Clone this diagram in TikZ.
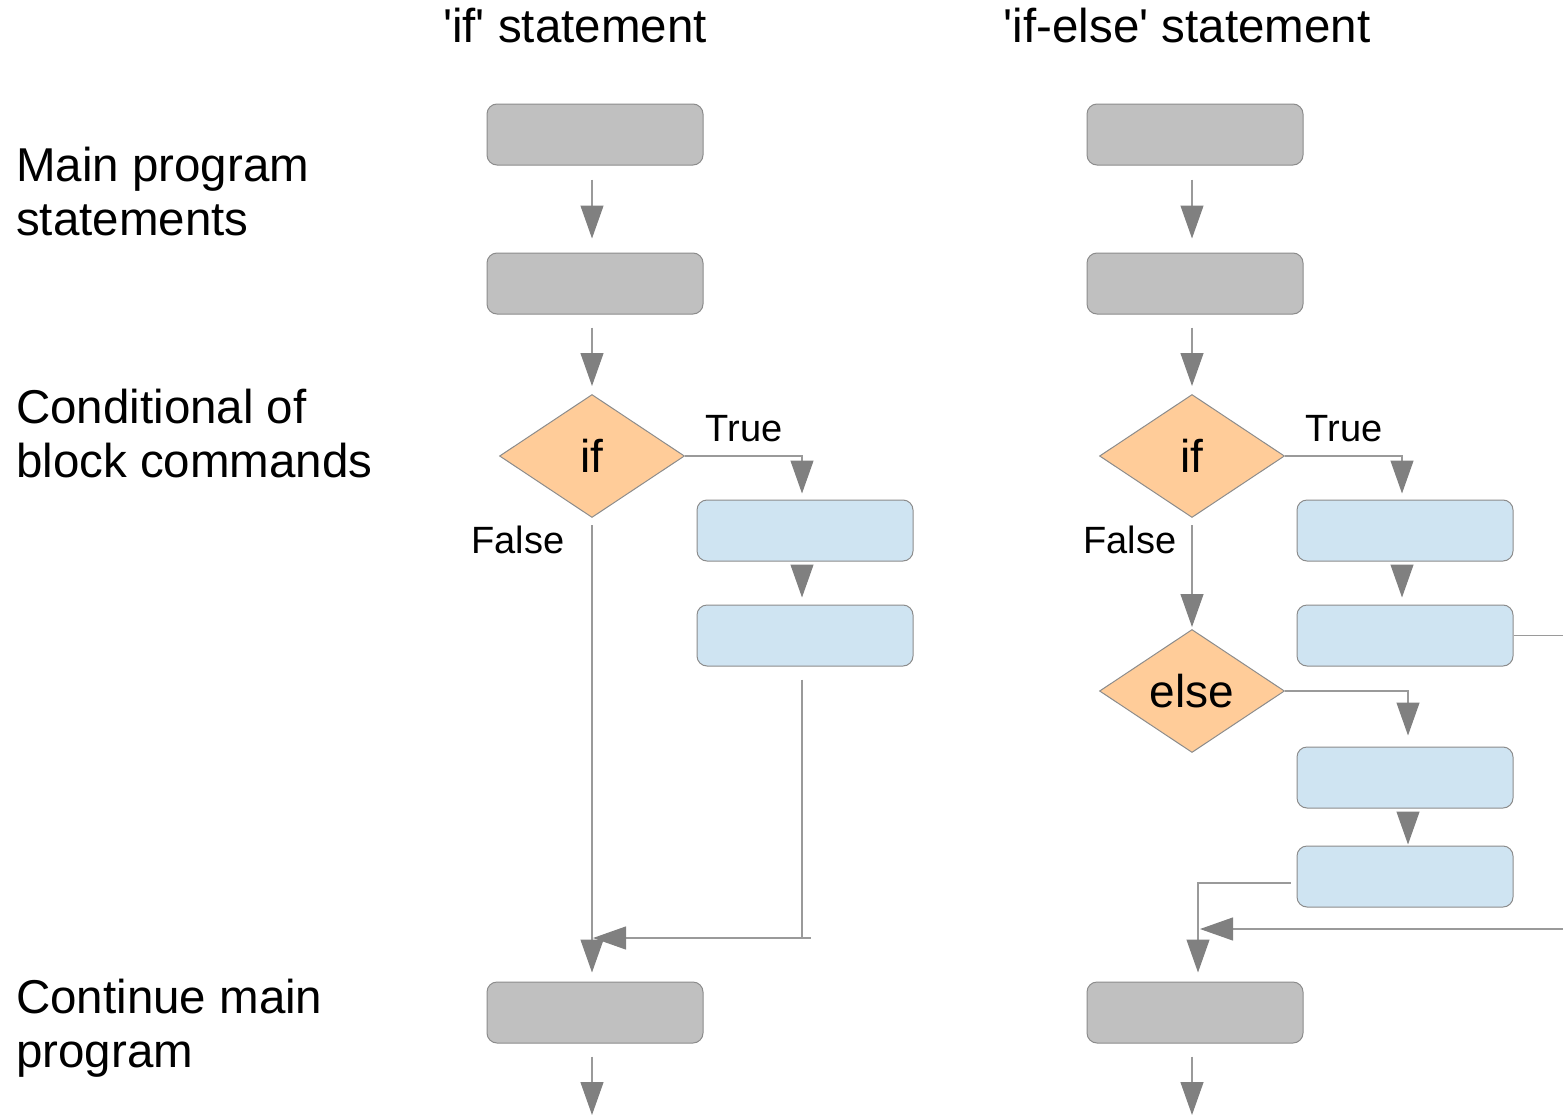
\documentclass[tikz,border=0pt]{standalone}
\usepackage{fontspec}
\newfontfamily\labfont{Liberation Sans}
\usetikzlibrary{arrows.meta,shapes.geometric}
\definecolor{boxgray}{HTML}{C0C0C0}
\definecolor{edgegray}{HTML}{8C8C8C}
\definecolor{linegray}{HTML}{9A9A9A}
\definecolor{headgray}{HTML}{808080}
\definecolor{stepblue}{HTML}{CFE4F2}
\definecolor{decpeach}{HTML}{FFCC99}

\tikzset{
  mainbox/.style={draw=edgegray, fill=boxgray, rounded corners=10pt,
    minimum width=216pt, minimum height=61pt, line width=1pt, inner sep=0pt},
  blockbox/.style={mainbox, fill=stepblue},
  decision/.style={diamond, draw=edgegray, fill=decpeach, minimum width=185pt,
    minimum height=123pt, inner sep=0pt, line width=1pt,
    font=\labfont\fontsize{46}{52}\selectfont},
  wire/.style={draw=linegray, line width=1.2pt},
  conn/.style={wire, -{Triangle[length=33pt,width=23pt,color=headgray]}},
  sidelabel/.style={anchor=base west, align=left, inner sep=0pt,
    font=\labfont\fontsize{47.5}{54}\selectfont},
  headline/.style={anchor=base, inner sep=0pt,
    font=\labfont\fontsize{47.5}{54}\selectfont},
  branch/.style={anchor=base, inner sep=0pt,
    font=\labfont\fontsize{38}{44}\selectfont},
}

\begin{document}
\begin{tikzpicture}[x=1pt, y=-1pt]
\useasboundingbox (0,0) rectangle (1563,1116);
\clip (0,0) rectangle (1563,1116);

% headings
\node[headline] (tL) at (575,43) {'if' statement};
\node[headline] (tR) at (1187,43) {'if-else' statement};

% row labels (anchored at the baseline of their last line)
\node[sidelabel] (lab1) at (16,235) {Main program\\statements};
\node[sidelabel] (lab2) at (16,477) {Conditional of\\block commands};
\node[sidelabel] (lab3) at (16,1067) {Continue main\\program};

% ---------- 'if' column ----------
\node[mainbox] (b1L) at (595,134.5) {};
\node[mainbox] (b2L) at (595,283.5) {};
\node[decision] (ifL) at (592,456) {if};
\node[blockbox] (bA1L) at (805,530.5) {};
\node[blockbox] (bA2L) at (805,635.5) {};
\node[mainbox] (b3L) at (595,1012.5) {};
\coordinate (mL) at (593,938);
\coordinate (endL) at (592,1115);

\node[branch] (trueL) at (744,441) {True};
\node[branch] (falseL) at (518,553) {False};

\draw[conn, shorten <=14pt, shorten >=14pt] (b1L.south -| ifL) -- (b2L.north -| ifL);
\draw[conn, shorten <=13pt, shorten >=8pt] (b2L.south -| ifL) -- (ifL.north);
\draw[conn, shorten >=6pt] (ifL.east) -| ([xshift=-3pt]bA1L.north);
\draw[conn, shorten <=4pt, shorten >=7pt] ([xshift=-3pt]bA1L.south) -- ([xshift=-3pt]bA2L.north);
\draw[conn, shorten <=13pt] ([xshift=-3pt]bA2L.south) |- (mL);
\draw[wire] ([xshift=-3pt]mL -| bA2L) -- ++(9,0);
\draw[conn, shorten <=7pt, shorten >=9pt] (ifL.south) -- (b3L.north -| ifL);
\draw[conn, shorten <=13pt] (b3L.south -| endL) -- (endL);

% ---------- 'if-else' column ----------
\node[mainbox] (b1R) at (1195,134.5) {};
\node[mainbox] (b2R) at (1195,283.5) {};
\node[decision] (ifR) at (1192,456) {if};
\node[blockbox] (bA1R) at (1405,530.5) {};
\node[blockbox] (bA2R) at (1405,635.5) {};
\node[decision] (elseR) at (1192,691) {else};
\node[blockbox] (bB1R) at (1405,777.5) {};
\node[blockbox] (bB2R) at (1405,876.5) {};
\node[mainbox] (b3R) at (1195,1012.5) {};
\coordinate (mR) at (1200,929);
\coordinate (endR) at (1192,1115);

\node[branch] (trueR) at (1344,441) {True};
\node[branch] (falseR) at (1130,553) {False};

\draw[conn, shorten <=14pt, shorten >=14pt] (b1R.south -| ifR) -- (b2R.north -| ifR);
\draw[conn, shorten <=13pt, shorten >=8pt] (b2R.south -| ifR) -- (ifR.north);
\draw[conn, shorten >=6pt] (ifR.east) -| ([xshift=-3pt]bA1R.north);
\draw[conn, shorten <=4pt, shorten >=7pt] ([xshift=-3pt]bA1R.south) -- ([xshift=-3pt]bA2R.north);
\draw[conn] (bA2R.east) -- ++(70,0) |- (mR);
\draw[conn, shorten <=7pt, shorten >=2pt] (ifR.south) -- (elseR.north);
\draw[conn, shorten >=11pt] (elseR.east) -| ([xshift=3pt]bB1R.north);
\draw[conn, shorten <=4pt, shorten >=1pt] ([xshift=3pt]bB1R.south) -- ([xshift=3pt]bB2R.north);
\draw[conn, shorten <=6pt, shorten >=9pt] ([yshift=-6.5pt]bB2R.west) -| ([xshift=3pt]b3R.north);
\draw[conn, shorten <=13pt] (b3R.south -| endR) -- (endR);
\end{tikzpicture}
\end{document}
